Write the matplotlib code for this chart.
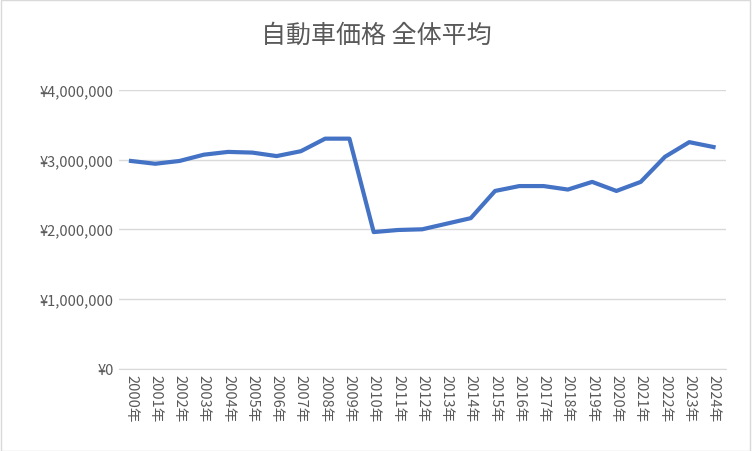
import matplotlib
matplotlib.use("Agg")
import matplotlib.pyplot as plt
from matplotlib.ticker import FuncFormatter
from matplotlib.patches import Rectangle

plt.rcParams["font.family"] = "Noto Sans CJK JP"

years = [f"{y}年" for y in range(2000, 2025)]
prices = [2980000, 2940000, 2980000, 3070000, 3110000, 3100000, 3050000, 3120000,
          3300000, 3300000, 1960000, 1990000, 2000000, 2080000, 2160000, 2550000,
          2620000, 2620000, 2570000, 2680000, 2550000, 2680000, 3040000, 3250000, 3180000]

fig = plt.figure(figsize=(7.52, 4.52), dpi=100)
ax = fig.add_axes([0.158, 0.182, 0.807, 0.617])
x = list(range(len(years)))
ax.plot(x, prices, color="#4472C4", linewidth=3)
ax.set_ylim(0, 4000000)
ax.set_xlim(-0.5, len(years) - 0.5)
ax.set_yticks([0, 1000000, 2000000, 3000000, 4000000])
ax.yaxis.set_major_formatter(FuncFormatter(lambda v, p: f"¥{int(v):,}"))
ax.set_xticks(x)
ax.set_xticklabels(years, rotation=270, fontsize=10.5, color="#595959")
ax.tick_params(axis="y", labelsize=10.5, colors="#595959", length=0)
ax.tick_params(axis="x", length=0)
ax.grid(axis="y", color="#D9D9D9", linewidth=1)
for s in ["top", "right", "left"]:
    ax.spines[s].set_visible(False)
ax.spines["bottom"].set_color("#D9D9D9")
fig.suptitle("自動車価格 全体平均", y=0.95, fontsize=18, color="#595959")
fig.patches.append(Rectangle((0.001, 0.001), 0.997, 0.997, transform=fig.transFigure,
                             fill=False, edgecolor="#D9D9D9", linewidth=1))
fig.savefig("out.png")
